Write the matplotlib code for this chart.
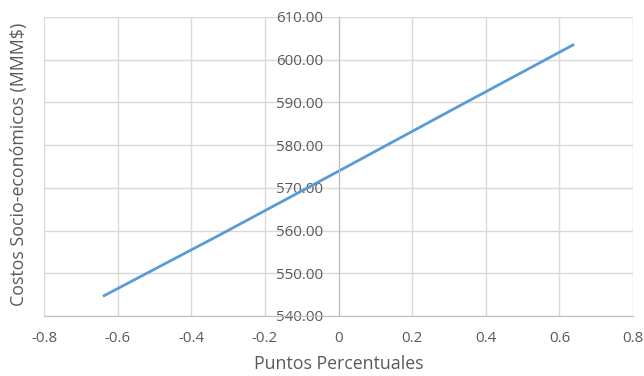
import matplotlib
matplotlib.use("Agg")
import matplotlib.pyplot as plt
from matplotlib.ticker import FormatStrFormatter, MultipleLocator

# Sensitivity of socio-economic costs to percentage-point change
puntos = [-0.64, -0.32, 0.0, 0.32, 0.64]
costos = [544.6, 559.1, 573.9, 588.8, 603.6]

TEXT = "#595959"
GRID = "#d9d9d9"
LINE = "#5b9bd5"

plt.rcParams["font.family"] = ["Open Sans", "DejaVu Sans"]

fig = plt.figure(figsize=(6.44, 3.76), dpi=100)
ax = fig.add_axes([0.0683, 0.1596, 0.9147, 0.7952])

ax.plot(puntos, costos, color=LINE, linewidth=2.0, solid_capstyle="butt")

ax.set_xlim(-0.8, 0.8)
ax.set_ylim(540, 610)
ax.xaxis.set_major_locator(MultipleLocator(0.2))
ax.yaxis.set_major_locator(MultipleLocator(10))
ax.yaxis.set_major_formatter(FormatStrFormatter("%.2f"))
ax.xaxis.set_major_formatter(lambda v, pos: "0" if abs(v) < 1e-9 else f"{v:g}")

ax.grid(True, color=GRID, linewidth=1.0)
ax.set_axisbelow(True)

ax.spines["left"].set_position(("data", 0))
ax.spines["left"].set_color("#bfbfbf")
ax.spines["bottom"].set_color("#bfbfbf")
ax.spines["top"].set_visible(False)
ax.spines["right"].set_visible(False)

ax.tick_params(axis="both", length=0, labelsize=10.8, labelcolor=TEXT)
ax.tick_params(axis="y", pad=11)
ax.tick_params(axis="x", pad=10.5)

ax.set_xlabel("Puntos Percentuales", fontsize=12.8, color=TEXT, labelpad=7)
ax.set_ylabel("Costos Socio-económicos (MMM$)", fontsize=12.8, color=TEXT)
ax.yaxis.set_label_coords(-0.027, 0.508)

fig.savefig("out.png", dpi=100)
